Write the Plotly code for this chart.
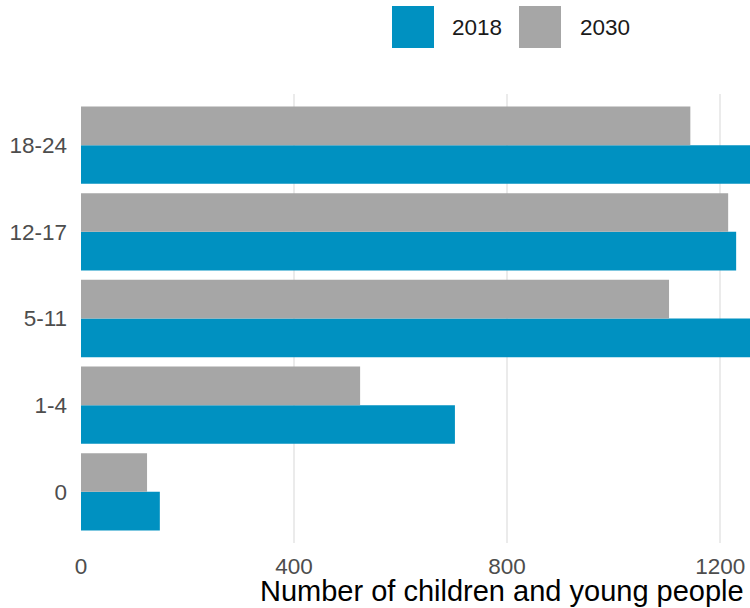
import plotly.graph_objects as go

categories = ["0", "1-4", "5-11", "12-17", "18-24"]
values_2018 = [148, 702, 1290, 1230, 1290]
values_2030 = [124, 524, 1104, 1215, 1144]
series_names = ["2018", "2030"]
colors = ["#0091C1", "#A6A6A6"]
x_ticks = [0, 400, 800, 1200]

FONT = "Liberation Sans, Arial, sans-serif"

W, H = 750, 608
L, R, T, B = 81, 0, 94, 65
pw, ph = W - L - R, H - T - B


def px_to_paper_x(px):
    return (px - L) / pw


def px_to_paper_y(py):
    return (H - B - py) / ph


fig = go.Figure()
for name, vals, col in zip(series_names, [values_2018, values_2030], colors):
    fig.add_trace(go.Bar(
        y=categories, x=vals, name=name, orientation="h",
        marker=dict(color=col, line=dict(width=0)),
        showlegend=False,
    ))

# custom legend with large keys
legend_x = [392, 519]
text_x = [450, 578]
for name, col, lx, tx in zip(series_names, colors, legend_x, text_x):
    fig.add_shape(type="rect", xref="paper", yref="paper",
                  x0=px_to_paper_x(lx), x1=px_to_paper_x(lx + 42),
                  y0=px_to_paper_y(48), y1=px_to_paper_y(6),
                  fillcolor=col, line=dict(width=0))
    fig.add_annotation(xref="paper", yref="paper",
                       x=px_to_paper_x(tx), y=px_to_paper_y(27),
                       xanchor="left", yanchor="middle", showarrow=False,
                       text=name, font=dict(family=FONT, size=22.5, color="#1a1a1a"))

fig.add_annotation(xref="paper", yref="paper", x=px_to_paper_x(746), y=0,
                   xanchor="right", yanchor="top", yshift=-30, showarrow=False,
                   text="Number of children and young people",
                   font=dict(family=FONT, size=29, color="#000000"))

fig.update_layout(
    width=W, height=H,
    margin=dict(l=L, r=R, t=T, b=B, pad=0),
    paper_bgcolor="white", plot_bgcolor="white",
    barmode="group", bargap=0.108, bargroupgap=0,
    font=dict(family=FONT, size=22.5, color="#4D4D4D"),
    xaxis=dict(range=[0, 1256], tickvals=x_ticks, showgrid=True,
               gridcolor="#EBEBEB", gridwidth=2, zeroline=False,
               showline=False, ticks="", ticklabelstandoff=7,
               tickfont=dict(size=22.5, color="#4D4D4D")),
    yaxis=dict(categoryorder="array", categoryarray=categories,
               range=[-0.59, 4.59], showgrid=False, zeroline=False,
               showline=False, ticks="", ticklabelstandoff=13,
               tickfont=dict(size=22.5, color="#4D4D4D")),
)

fig.write_html(
    "out.html",
    config={"displayModeBar": False},
    post_script="document.body.style.margin='0';document.body.style.overflow='hidden';",
)
